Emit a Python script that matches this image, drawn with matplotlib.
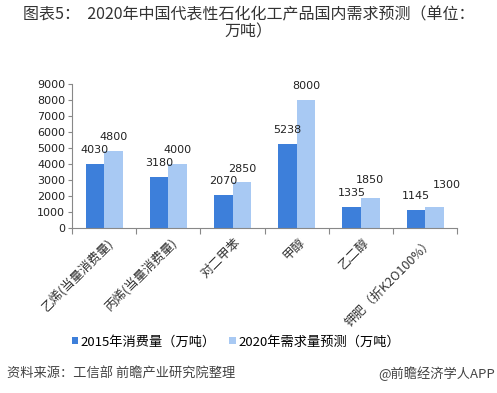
import numpy as np
import matplotlib.pyplot as plt

plt.rcParams['font.family'] = ['Noto Sans CJK SC', 'DejaVu Sans']

categories = ['乙烯(当量消费量)', '丙烯(当量消费量)', '对二甲苯', '甲醇', '乙二醇', '钾肥（折K2O100%）']
v2015 = [4030, 3180, 2070, 5238, 1335, 1145]
v2020 = [4800, 4000, 2850, 8000, 1850, 1300]
yticks = [0, 1000, 2000, 3000, 4000, 5000, 6000, 7000, 8000, 9000]

c_dark = '#3D7FDA'
c_light = '#A8C9F3'

fig = plt.figure(figsize=(4.97, 3.93), dpi=100)
ax = fig.add_axes([0.145, 0.42, 0.775, 0.366])

x = np.arange(len(categories))
w = 0.29
b1 = ax.bar(x - w / 2, v2015, w, color=c_dark, label='2015年消费量（万吨）')
b2 = ax.bar(x + w / 2, v2020, w, color=c_light, label='2020年需求量预测（万吨）')

# small manual nudges for crowded labels (dx in category units, dy in data units)
nudge2020 = {4: (0.0, 300), 5: (0.2, 500)}
for xi, v in zip(x, v2015):
    ax.text(xi - w / 2, v + 550, str(v), ha='center', va='bottom', fontsize=8, color='#222222', family='DejaVu Sans')
for xi, v in zip(x, v2020):
    dx, dy = nudge2020.get(xi, (0, 0))
    ax.text(xi + w / 2 + dx, v + 550 + dy, str(v), ha='center', va='bottom', fontsize=8, color='#222222', family='DejaVu Sans')

ax.set_xlim(-0.5, len(categories) - 0.5)
ax.set_ylim(0, 9000)
ax.set_yticks(yticks)
ax.set_yticklabels([str(t) for t in yticks], fontsize=8, color='#222222', family='DejaVu Sans')
ax.set_xticks(np.arange(len(categories) + 1) - 0.5)
ax.set_xticklabels([])
ax.tick_params(axis='x', length=4, color='#888888')
ax.tick_params(axis='y', length=3, color='#888888', pad=2)
for xi, lab in zip(x, categories):
    ax.text(xi + 0.03, -500, lab, rotation=45, ha='right', va='top', fontsize=9, color='#333333', rotation_mode='anchor')

for s in ['top', 'right']:
    ax.spines[s].set_visible(False)
for s in ['left', 'bottom']:
    ax.spines[s].set_color('#888888')

fig.legend(handles=[b1, b2], loc='center', bbox_to_anchor=(0.475, 0.13), ncol=2, frameon=False,
           fontsize=9.5, handlelength=0.5, handleheight=0.5, handletextpad=0.2, columnspacing=1.0)

fig.text(0.5, 0.962, '图表5：  2020年中国代表性石化化工产品国内需求预测（单位：', ha='center', va='center', fontsize=11.5, color='#333333')
fig.text(0.5, 0.918, '万吨）', ha='center', va='center', fontsize=11.5, color='#333333')
fig.text(0.015, 0.048, '资料来源：工信部 前瞻产业研究院整理', ha='left', va='center', fontsize=9.5, color='#444444', style='italic')
fig.text(0.995, 0.048, '@前瞻经济学人APP', ha='right', va='center', fontsize=9.5, color='#444444')

fig.savefig('out.png', dpi=100)
